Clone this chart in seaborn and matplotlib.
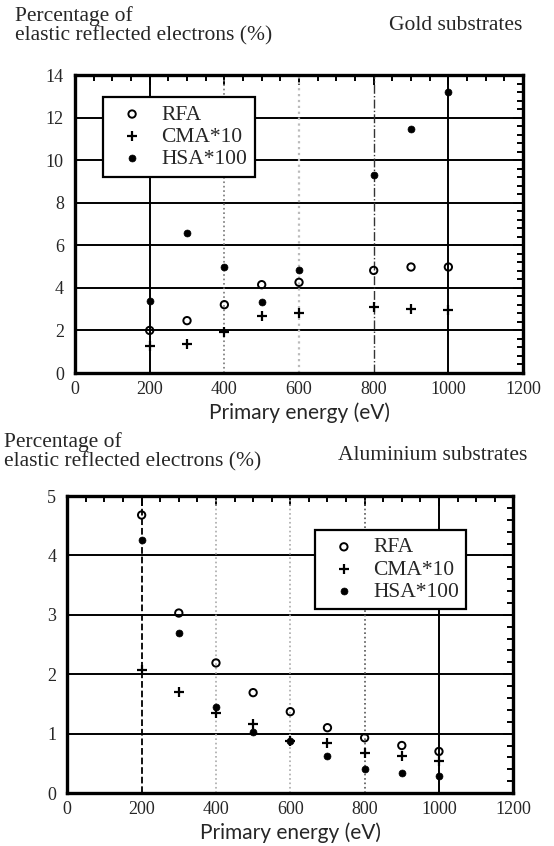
import matplotlib
matplotlib.use("Agg")
import matplotlib.pyplot as plt
from matplotlib.ticker import MultipleLocator
import seaborn as sns
import pandas as pd

# ---------------- data ----------------
energy_gold = [200, 300, 400, 500, 600, 800, 900, 1000]
gold_rfa = [2.0, 2.46, 3.21, 4.15, 4.26, 4.82, 4.98, 4.98]
gold_cma = [1.25, 1.38, 1.91, 2.69, 2.82, 3.10, 3.00, 2.97]
gold_hsa = [3.37, 6.57, 4.96, 3.32, 4.85, 9.31, 11.47, 13.22]

energy_al = [200, 300, 400, 500, 600, 700, 800, 900, 1000]
al_rfa = [4.68, 3.03, 2.19, 1.69, 1.37, 1.10, 0.93, 0.80, 0.70]
al_cma = [2.07, 1.70, 1.35, 1.17, 0.87, 0.85, 0.67, 0.62, 0.54]
al_hsa = [4.26, 2.70, 1.44, 1.03, 0.87, 0.62, 0.41, 0.33, 0.28]

series_labels = ["RFA", "CMA*10", "HSA*100"]
x_ticks = [0, 200, 400, 600, 800, 1000, 1200]
gold_yticks = [0, 2, 4, 6, 8, 10, 12, 14]
al_yticks = [0, 1, 2, 3, 4, 5]

ylabel_text = "Percentage of\nelastic reflected electrons (%)"
xlabel_text = "Primary energy (eV)"

sns.set_style("white")
SERIF = ["Liberation Serif", "DejaVu Serif"]
plt.rcParams["font.family"] = SERIF

fig = plt.figure(figsize=(5.54, 8.46), dpi=100)
ax1 = fig.add_axes([0.1354, 0.5591, 0.8087, 0.3522])
ax2 = fig.add_axes([0.1215, 0.0626, 0.8050, 0.3511])


def draw(ax, energy, rfa, cma, hsa, yticks, yminor, vstyles, legend_anchor):
    df = pd.DataFrame({"E": energy, "RFA": rfa, "CMA": cma, "HSA": hsa})
    # grid lines
    for yv in yticks[1:-1]:
        ax.axhline(yv, color="black", lw=1.4, zorder=1)
    for xv, (ls, col, lw) in zip(x_ticks[1:-1], vstyles):
        ax.axvline(xv, color=col, lw=lw, ls=ls, zorder=1)
    sns.scatterplot(data=df, x="E", y="RFA", ax=ax, marker="o", s=28,
                    facecolors="none", edgecolor="black", linewidth=1.4,
                    label=series_labels[0], zorder=3)
    sns.scatterplot(data=df, x="E", y="CMA", ax=ax, marker="+", s=55,
                    color="black", linewidth=1.6, label=series_labels[1], zorder=3)
    sns.scatterplot(data=df, x="E", y="HSA", ax=ax, marker="o", s=25,
                    color="black", edgecolor="black", linewidth=0.5,
                    label=series_labels[2], zorder=3)
    ax.set_xlim(0, 1200)
    ax.set_ylim(yticks[0], yticks[-1])
    ax.set_xticks(x_ticks)
    ax.set_yticks(yticks)
    ax.set_xticklabels([str(v) for v in x_ticks], family=SERIF, fontsize=13)
    ax.set_yticklabels([str(v) for v in yticks], family=SERIF, fontsize=13)
    ax.xaxis.set_minor_locator(MultipleLocator(50))
    ax.yaxis.set_minor_locator(MultipleLocator(yminor))
    ax.tick_params(which="both", direction="in", top=True, right=True,
                   color="black", width=1.4)
    ax.tick_params(axis="x", which="major", pad=6)
    ax.tick_params(axis="y", which="major", pad=8)
    ax.tick_params(which="major", length=7)
    ax.tick_params(which="minor", length=4)
    for sp in ax.spines.values():
        sp.set_color("black")
        sp.set_linewidth(2.4)
    ax.set_xlabel(xlabel_text, family=["Lato", "DejaVu Sans"], fontsize=15, labelpad=3)
    ax.set_ylabel("")
    leg = ax.legend(loc="upper left", bbox_to_anchor=legend_anchor, borderaxespad=0,
                    frameon=True, fancybox=False, framealpha=1,
                    prop={"family": SERIF, "size": 15.5},
                    handletextpad=0.35, labelspacing=0.1, borderpad=0.35,
                    handlelength=2.0)
    leg.get_frame().set_edgecolor("black")
    leg.get_frame().set_linewidth(1.6)
    leg.set_zorder(5)


draw(ax1, energy_gold, gold_rfa, gold_cma, gold_hsa, gold_yticks, 0.4,
     [("-", "black", 1.4), (":", "#777777", 1.2), (":", "#bbbbbb", 1.6),
      ("-.", "#333333", 1.0), ("-", "black", 1.4)], (0.0625, 0.926))
draw(ax2, energy_al, al_rfa, al_cma, al_hsa, al_yticks, 0.2,
     [("--", "black", 1.3), (":", "#aaaaaa", 1.2), (":", "#aaaaaa", 1.2),
      (":", "#555555", 1.2), ("-", "black", 1.4)], (0.555, 0.886))

fig.text(15 / 554, 1 - 6 / 846, ylabel_text, ha="left", va="top", fontsize=15.5,
         linespacing=1.0)
fig.text(522 / 554, 1 - 25 / 846, "Gold substrates", ha="right", va="center", fontsize=15.5)
fig.text(4 / 554, 1 - 432 / 846, ylabel_text, ha="left", va="top", fontsize=15.5,
         linespacing=1.0)
fig.text(527 / 554, 1 - 455 / 846, "Aluminium substrates", ha="right", va="center",
         fontsize=15.5)

fig.savefig("out.png", dpi=100)
